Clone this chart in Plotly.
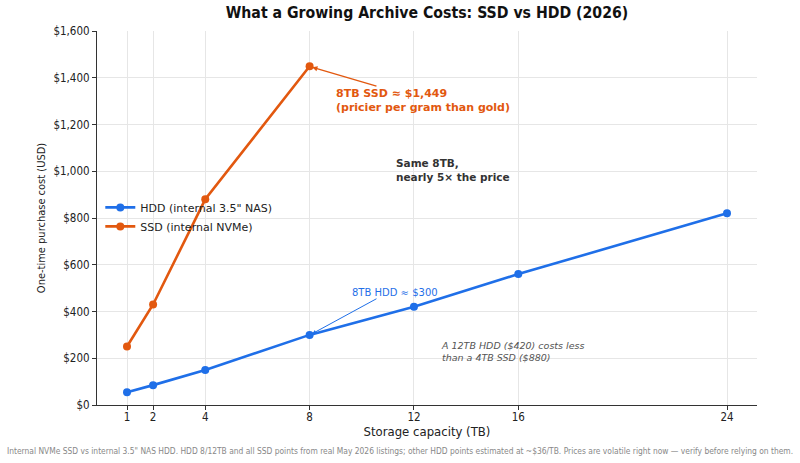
import plotly.graph_objects as go

capacity_hdd = [1, 2, 4, 8, 12, 16, 24]
price_hdd = [55, 85, 150, 300, 420, 560, 820]
capacity_ssd = [1, 2, 4, 8]
price_ssd = [250, 430, 880, 1449]
x_ticks = [1, 2, 4, 8, 12, 16, 24]
y_ticks = [0, 200, 400, 600, 800, 1000, 1200, 1400, 1600]
y_tick_labels = ["$0", "$200", "$400", "$600", "$800", "$1,000", "$1,200", "$1,400", "$1,600"]

HDD_C = "#1f6fe8"
SSD_C = "#e2580f"
FONT = "DejaVu Sans"
COND = "DejaVu Sans Condensed, DejaVu Sans"

fig = go.Figure()
fig.add_trace(go.Scatter(x=capacity_hdd, y=price_hdd, mode="lines+markers",
                         name='HDD (internal 3.5" NAS)',
                         line=dict(color=HDD_C, width=2.6),
                         marker=dict(color=HDD_C, size=8)))
fig.add_trace(go.Scatter(x=capacity_ssd, y=price_ssd, mode="lines+markers",
                         name="SSD (internal NVMe)",
                         line=dict(color=SSD_C, width=2.6),
                         marker=dict(color=SSD_C, size=8)))

annotations = [
    dict(x=8.1, y=1445, ax=10.62, ay=1362, xref="x", yref="y", axref="x", ayref="y",
         text="", showarrow=True, arrowhead=2, arrowsize=0.8, arrowwidth=1.3, arrowcolor=SSD_C),
    dict(x=8.1, y=305, ax=10.62, ay=458, xref="x", yref="y", axref="x", ayref="y",
         text="", showarrow=True, arrowhead=2, arrowsize=0.8, arrowwidth=1, arrowcolor=HDD_C),
    dict(x=8.95, y=1302, xref="x", yref="y", xanchor="left", yanchor="middle", align="left",
         text="<b>8TB SSD ≈ $1,449<br>(pricier per gram than gold)</b>", showarrow=False,
         font=dict(color=SSD_C, size=11, family=FONT)),
    dict(x=11.22, y=1005, xref="x", yref="y", xanchor="left", yanchor="middle", align="left",
         text="<b>Same 8TB,<br>nearly 5× the price</b>", showarrow=False,
         font=dict(color="#333333", size=10.5, family=FONT)),
    dict(x=9.55, y=483, xref="x", yref="y", xanchor="left", yanchor="middle", align="left",
         text="8TB HDD ≈ $300", showarrow=False,
         font=dict(color=HDD_C, size=10, family=FONT)),
    dict(x=12.95, y=227, xref="x", yref="y", xanchor="left", yanchor="middle", align="left",
         text="<i>A 12TB HDD ($420) costs less<br>than a 4TB SSD ($880)</i>", showarrow=False,
         font=dict(color="#555555", size=9.5, family=FONT)),
    dict(x=0.459, y=-0.123, xref="paper", yref="paper", xanchor="center", yanchor="middle",
         showarrow=False,
         text="Internal NVMe SSD vs internal 3.5\" NAS HDD. HDD 8/12TB and all SSD points from real May 2026 listings; other HDD points estimated at ~$36/TB. Prices are volatile right now — verify before relying on them.",
         font=dict(color="#888888", size=8.4, family=COND)),
]

fig.update_layout(
    width=800, height=463,
    margin=dict(l=97, r=43, t=31, b=58),
    paper_bgcolor="white", plot_bgcolor="white",
    font=dict(family=COND, color="#222222"),
    title=dict(text="<b>What a Growing Archive Costs: SSD vs HDD (2026)</b>",
               x=0.5, xref="paper", xanchor="center", y=0.972, yanchor="middle",
               font=dict(size=15.7, color="#111111", family=COND)),
    legend=dict(x=0.005, y=0.503, xanchor="left", yanchor="middle",
                bgcolor="rgba(255,255,255,0)", font=dict(size=11, family=FONT),
                tracegroupgap=0, itemwidth=30),
    showlegend=True,
    annotations=annotations,
    xaxis=dict(range=[-0.15, 25.15], tickvals=x_ticks, ticktext=[str(t) for t in x_ticks],
               showgrid=True, gridcolor="#e6e6e6", gridwidth=1,
               showline=True, linecolor="#333333", linewidth=1.2,
               ticks="outside", ticklen=4, tickcolor="#333333",
               zeroline=False, tickfont=dict(size=11.5), ticklabelstandoff=-3,
               title=dict(text="Storage capacity (TB)", font=dict(size=13), standoff=2)),
    yaxis=dict(range=[0, 1600], tickvals=y_ticks, ticktext=y_tick_labels,
               showgrid=True, gridcolor="#e6e6e6", gridwidth=1,
               showline=True, linecolor="#333333", linewidth=1.2,
               ticks="outside", ticklen=4, tickcolor="#333333",
               zeroline=False, tickfont=dict(size=11.5),
               title=dict(text="One-time purchase cost (USD)", font=dict(size=11), standoff=5)),
)

fig.write_html("out.html")
